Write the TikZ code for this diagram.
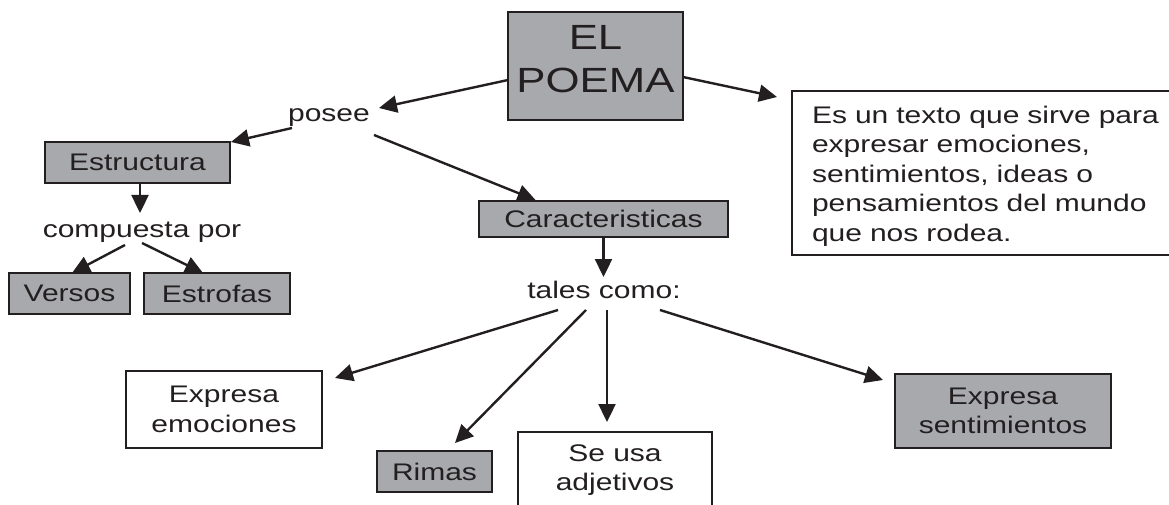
\documentclass[tikz,border=0pt]{standalone}
\usepackage{fontspec}
\setmainfont{Liberation Sans}[FakeStretch=1.25]
\usetikzlibrary{arrows.meta,calc}
\definecolor{boxgray}{HTML}{A7A9AC}
\definecolor{ink}{HTML}{231F20}
\begin{document}
\begin{tikzpicture}[x=1pt,y=-1pt,
  every node/.style={text=ink, inner sep=0pt, outer sep=0pt, font=\fontsize{24}{29.5}\selectfont},
  box/.style={draw=ink, line width=2.7pt, align=center},
  gbox/.style={box, fill=boxgray},
  wbox/.style={box, fill=white},
  lbl/.style={anchor=base},
  conn/.style={draw=ink, line width=2.4pt, -{Triangle[length=18pt,width=17pt]}}]
\useasboundingbox (0,0) rectangle (1169,505);
\clip (0,0) rectangle (1169,505);
% boxes
\node[gbox, minimum width=175pt, minimum height=108pt, font=\fontsize{35}{43}\selectfont] (poema) at (595.5,66) {EL\\POEMA\rule[-14pt]{0pt}{14pt}};
\node[wbox, inner xsep=20pt, text width=373pt, align=left, minimum height=164pt] (desc) at (998.5,173) {\rule{0pt}{23pt}Es un texto que sirve para\\expresar emociones,\\sentimientos, ideas o\\pensamientos del mundo\\que nos rodea.};
\node[gbox, minimum width=185pt, minimum height=41pt] (estructura) at (137.5,162.5) {Estructura};
\node[gbox, minimum width=121pt, minimum height=41pt] (versos) at (69.5,293.5) {Versos};
\node[gbox, minimum width=146pt, minimum height=41pt] (estrofas) at (217,293.5) {Estrofas};
\node[gbox, minimum width=249pt, minimum height=36pt] (caract) at (603.5,219) {Caracteristicas};
\node[wbox, minimum width=196pt, minimum height=77pt] (emociones) at (224,409.5) {Expresa\\emociones};
\node[gbox, minimum width=115pt, minimum height=41pt] (rimas) at (434.5,471.5) {Rimas};
\node[wbox, minimum width=194pt, minimum height=76pt] (seusa) at (615,470) {Se usa\\adjetivos};
\node[gbox, minimum width=216pt, minimum height=74pt] (expsent) at (1003,411) {Expresa\\sentimientos};
% labels
\node[lbl] (posee) at (329,122) {posee};
\node[lbl] (compuesta) at (142,237) {compuesta por};
\node[lbl] (tales) at (604,298) {tales como:};
% connectors
\draw[conn] ($(poema.west)+(0,14)$) -- ($(posee.base)+(50,-14)$);
\draw[conn] ($(poema.east)+(0,11)$) -- ($(desc.west)+(-15,-76)$);
\draw[conn] ($(posee.base)+(-37,6)$) -- ($(estructura.north east)+(1,0)$);
\draw[conn] ($(posee.base)+(45,13)$) -- ($(caract.north)+(-68,-1)$);
\draw[conn] ($(estructura.south)+(2.5,0)$) -- ($(compuesta.base)+(-2,-24)$);
\draw[conn] ($(compuesta.base)+(-17,8)$) -- ($(versos.north)+(2.5,0)$);
\draw[conn] ($(compuesta.base)+(0,6)$) -- ($(estrofas.north)+(-14,0)$);
\draw[conn] (caract.south) -- ($(tales.base)+(-0.5,-21)$);
\draw[conn] ($(tales.base)+(-46,12)$) -- ($(emociones.north east)+(13,7)$);
\draw[conn] ($(tales.base)+(-18,12)$) -- ($(rimas.north)+(20.5,-8)$);
\draw[conn] ($(tales.base)+(3,12)$) -- ($(seusa.north)+(-8,-10)$);
\draw[conn] ($(tales.base)+(56,12)$) -- ($(expsent.north west)+(-12,6)$);
\end{tikzpicture}
\end{document}
